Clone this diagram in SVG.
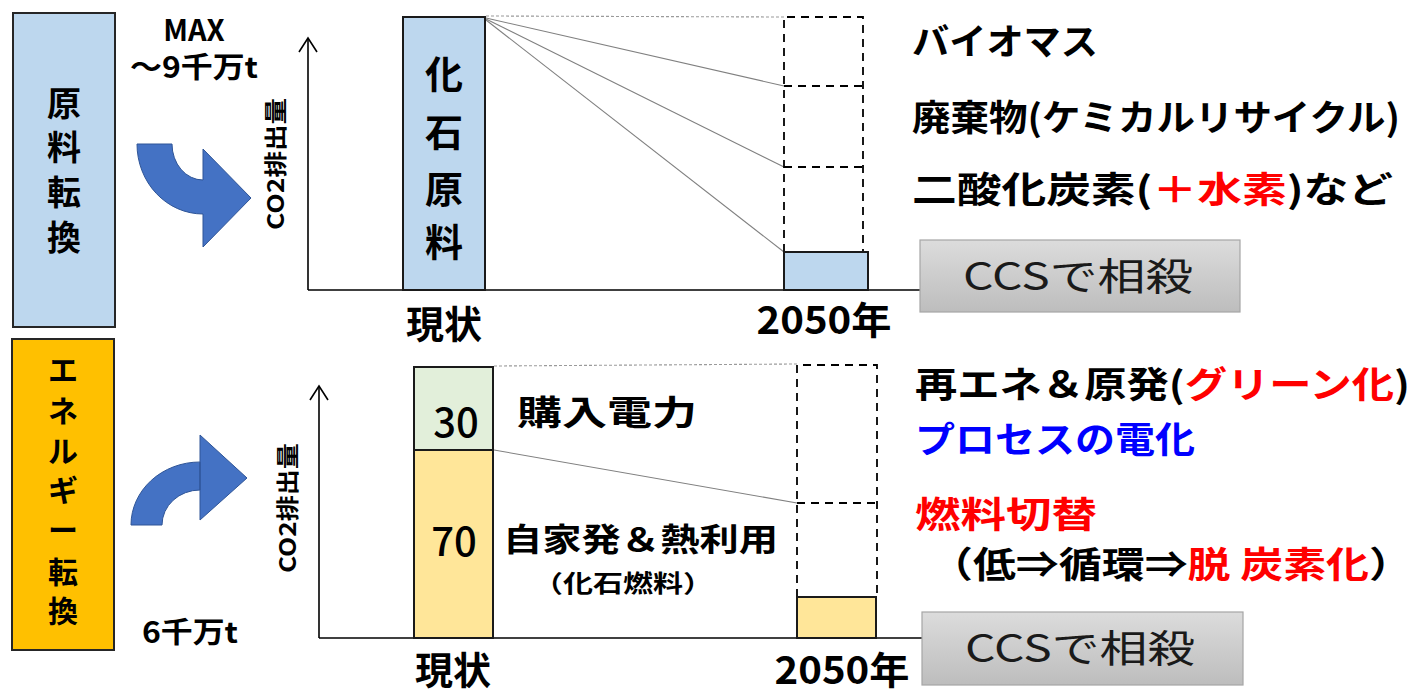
<svg xmlns="http://www.w3.org/2000/svg" width="1418" height="693" viewBox="0 0 1418 693">
<defs>
<style>
text{font-family:"Noto Sans CJK JP","Noto Sans",sans-serif;font-weight:700;fill:#000}
.side{stroke:#262626;stroke-width:2}
.bar{stroke:#1a1a1a;stroke-width:2}
.dash{fill:none;stroke:#000;stroke-width:1.8;stroke-dasharray:8,6}
.conn{fill:none;stroke:#808080;stroke-width:1.1}
.dot{fill:none;stroke:#9a9a9a;stroke-width:1.1;stroke-dasharray:3,2}
.axis{fill:none;stroke:#000;stroke-width:1.6}
.arrow{fill:#4472C4;stroke:#2F5597;stroke-width:1}
.ccs{fill:url(#g);stroke:#a6a6a6;stroke-width:1.2}
.ccst{font-weight:400;fill:#1a1a1a;font-size:38px}
.num{font-weight:500;font-size:40px}
.r{fill:#FF0000}
.b{fill:#0000FF}
</style>
<linearGradient id="g" x1="0" y1="0" x2="0" y2="1">
<stop offset="0" stop-color="#DCDCDC"/>
<stop offset="1" stop-color="#BDBDBD"/>
</linearGradient>
</defs>

<g id="side-feedstock">
<rect class="side" x="13" y="13" width="102" height="314" fill="#BDD7EE"/>
<text font-size="34" text-anchor="middle"><tspan x="64" y="116">原</tspan><tspan x="64" y="160">料</tspan><tspan x="64" y="205">転</tspan><tspan x="64" y="250">換</tspan></text>
</g>

<g id="side-energy">
<rect class="side" x="12" y="339" width="102" height="311" fill="#FFC000"/>
<text font-size="30" text-anchor="middle"><tspan x="63" y="381">エ</tspan><tspan x="63" y="422">ネ</tspan><tspan x="63" y="462">ル</tspan><tspan x="63" y="501">ギ</tspan><tspan x="63" y="541">ー</tspan><tspan x="63" y="583">転</tspan><tspan x="63" y="622">換</tspan></text>
</g>

<g id="amount-top">
<text x="194" y="41" font-size="29" text-anchor="middle">MAX</text>
<text x="194" y="78" font-size="29" text-anchor="middle" textLength="128" lengthAdjust="spacingAndGlyphs">～9千万t</text>
</g>
<g id="amount-bottom">
<text x="190" y="643" font-size="29" text-anchor="middle" textLength="96" lengthAdjust="spacingAndGlyphs">6千万t</text>
</g>

<g id="arrow-top">
<path class="arrow" d="M137,144 L172,144 A31,36 0 0 0 203,180 L203,149 L251,198 L203,247 L203,214 A66,70 0 0 1 137,144 Z"/>
</g>
<g id="arrow-bottom">
<path class="arrow" d="M131,525 L162,525 A38,35 0 0 1 200,490 L200,435 L247,478 L200,520 L200,462 A69,63 0 0 0 131,525 Z"/>
</g>

<g id="axes">
<line class="axis" x1="308" y1="290" x2="308" y2="38"/>
<path class="axis" d="M299,52 L308,38 L317,52"/>
<line class="axis" x1="308" y1="290" x2="920" y2="290"/>
<line class="axis" x1="319" y1="638" x2="319" y2="386"/>
<path class="axis" d="M310,400 L319,386 L328,400"/>
<line class="axis" x1="319" y1="638" x2="922" y2="638"/>
<text transform="translate(284,164) rotate(-90)" font-size="23" text-anchor="middle" textLength="132" lengthAdjust="spacingAndGlyphs">CO2排出量</text>
<text transform="translate(296,508) rotate(-90)" font-size="23" text-anchor="middle" textLength="130" lengthAdjust="spacingAndGlyphs">CO2排出量</text>
</g>

<g id="connectors">
<line class="dot" x1="486" y1="16" x2="784" y2="17"/>
<line class="conn" x1="486" y1="18" x2="784" y2="86"/>
<line class="conn" x1="486" y1="19" x2="784" y2="167"/>
<line class="conn" x1="486" y1="20" x2="784" y2="252"/>
<line class="dot" x1="494" y1="366" x2="797" y2="364"/>
<line class="conn" x1="494" y1="450" x2="797" y2="503"/>
</g>

<g id="bar-top-now">
<rect class="bar" x="403" y="17" width="82" height="273" fill="#BDD7EE"/>
<text font-size="38" text-anchor="middle"><tspan x="444" y="88">化</tspan><tspan x="444" y="146">石</tspan><tspan x="444" y="203">原</tspan><tspan x="444" y="256">料</tspan></text>
<text x="444" y="338" font-size="38" text-anchor="middle">現状</text>
</g>

<g id="bar-top-2050">
<path class="dash" d="M784,252 V17 H863 V252 M784,86 H863 M784,167 H863"/>
<rect class="bar" x="784" y="252" width="84" height="38" fill="#BDD7EE"/>
<text x="824" y="334" font-size="38" text-anchor="middle" textLength="135" lengthAdjust="spacingAndGlyphs">2050年</text>
</g>

<g id="labels-top">
<text x="912" y="55" font-size="36" textLength="186" lengthAdjust="spacingAndGlyphs">バイオマス</text>
<text x="912" y="131" font-size="36" textLength="488" lengthAdjust="spacingAndGlyphs">廃棄物(ケミカルリサイクル)</text>
<text x="912" y="203" font-size="36" textLength="481" lengthAdjust="spacingAndGlyphs">二酸化炭素(<tspan class="r">＋水素</tspan>)など</text>
</g>

<g id="ccs-top">
<rect class="ccs" x="920" y="240" width="320" height="72"/>
<text class="ccst" x="1078" y="290" text-anchor="middle" textLength="230" lengthAdjust="spacingAndGlyphs">CCSで相殺</text>
</g>

<g id="bar-bottom-now">
<rect class="bar" x="414" y="367" width="79" height="83" fill="#E2EFDA"/>
<rect class="bar" x="414" y="450" width="79" height="188" fill="#FFE699"/>
<text class="num" x="456" y="437" text-anchor="middle">30</text>
<text class="num" x="454" y="556" text-anchor="middle">70</text>
<text x="453" y="684" font-size="38" text-anchor="middle">現状</text>
</g>

<g id="labels-bottom-now">
<text x="517" y="425" font-size="34" textLength="180" lengthAdjust="spacingAndGlyphs">購入電力</text>
<text x="503" y="551" font-size="32" textLength="275" lengthAdjust="spacingAndGlyphs">自家発＆熱利用</text>
<text x="533" y="592" font-size="24" textLength="180" lengthAdjust="spacingAndGlyphs">（化石燃料）</text>
</g>

<g id="bar-bottom-2050">
<path class="dash" d="M797,597 V365 H877 V597 M797,503 H877"/>
<rect class="bar" x="797" y="597" width="79" height="41" fill="#FFE699"/>
<text x="842" y="684" font-size="38" text-anchor="middle" textLength="135" lengthAdjust="spacingAndGlyphs">2050年</text>
</g>

<g id="labels-bottom">
<text x="915" y="398" font-size="36" textLength="495" lengthAdjust="spacingAndGlyphs">再エネ＆原発(<tspan class="r">グリーン化</tspan>)</text>
<text x="915" y="453" font-size="36" class="b" textLength="280" lengthAdjust="spacingAndGlyphs">プロセスの電化</text>
<text x="915" y="528" font-size="36" class="r" textLength="182" lengthAdjust="spacingAndGlyphs">燃料切替</text>
<text x="930" y="578" font-size="36" textLength="482" lengthAdjust="spacingAndGlyphs">（低⇒循環⇒<tspan class="r">脱 炭素化</tspan>）</text>
</g>

<g id="ccs-bottom">
<rect class="ccs" x="922" y="612" width="321" height="73"/>
<text class="ccst" x="1080" y="662" text-anchor="middle" textLength="230" lengthAdjust="spacingAndGlyphs">CCSで相殺</text>
</g>
</svg>
